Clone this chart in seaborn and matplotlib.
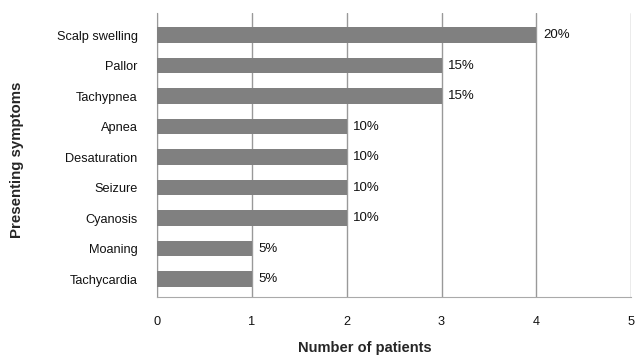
import numpy as np
import pandas as pd
import seaborn as sns
import matplotlib.pyplot as plt

symptoms = ['Scalp swelling', 'Pallor', 'Tachypnea', 'Apnea', 'Desaturation',
            'Seizure', 'Cyanosis', 'Moaning', 'Tachycardia']
patients = [4, 3, 3, 2, 2, 2, 2, 1, 1]
percents = ['20%', '15%', '15%', '10%', '10%', '10%', '10%', '5%', '5%']

df = pd.DataFrame({'symptom': symptoms, 'n': patients})

sns.set_style('white')
plt.rcParams['font.family'] = ['Liberation Sans', 'DejaVu Sans']

fig = plt.figure(figsize=(6.44, 3.64), dpi=100)
ax = fig.add_axes([0.244, 0.184, 0.736, 0.78])

sns.barplot(data=df, x='n', y='symptom', orient='h', color='#808080',
            saturation=1, width=0.5, linewidth=0, ax=ax, zorder=3)

for i, (v, p) in enumerate(zip(patients, percents)):
    ax.text(v + 0.07, i, p, va='center', ha='left', fontsize=9.5, color='#111111')

ax.set_xlim(0, 5)
ax.set_ylim(8.59, -0.72)
ax.set_xticks(range(6))
ax.xaxis.grid(True, color='#999999', linewidth=1, zorder=0)
ax.tick_params(axis='both', length=0, labelsize=9.2, colors='#111111')
ax.tick_params(axis='x', pad=14)
ax.tick_params(axis='y', pad=14)

for s in ['top', 'right']:
    ax.spines[s].set_visible(False)
ax.spines['left'].set_color('#999999')
ax.spines['bottom'].set_color('#aaaaaa')
ax.spines['bottom'].set_linestyle((0, (1, 1)))

ax.set_xlabel('Number of patients', fontsize=10.5, fontweight='bold')
ax.set_ylabel('Presenting symptoms', fontsize=10.8, fontweight='bold')
ax.xaxis.set_label_coords(0.439, -0.155)
ax.yaxis.set_label_coords(-0.281, 0.482)

fig.savefig('out.png', dpi=100)
